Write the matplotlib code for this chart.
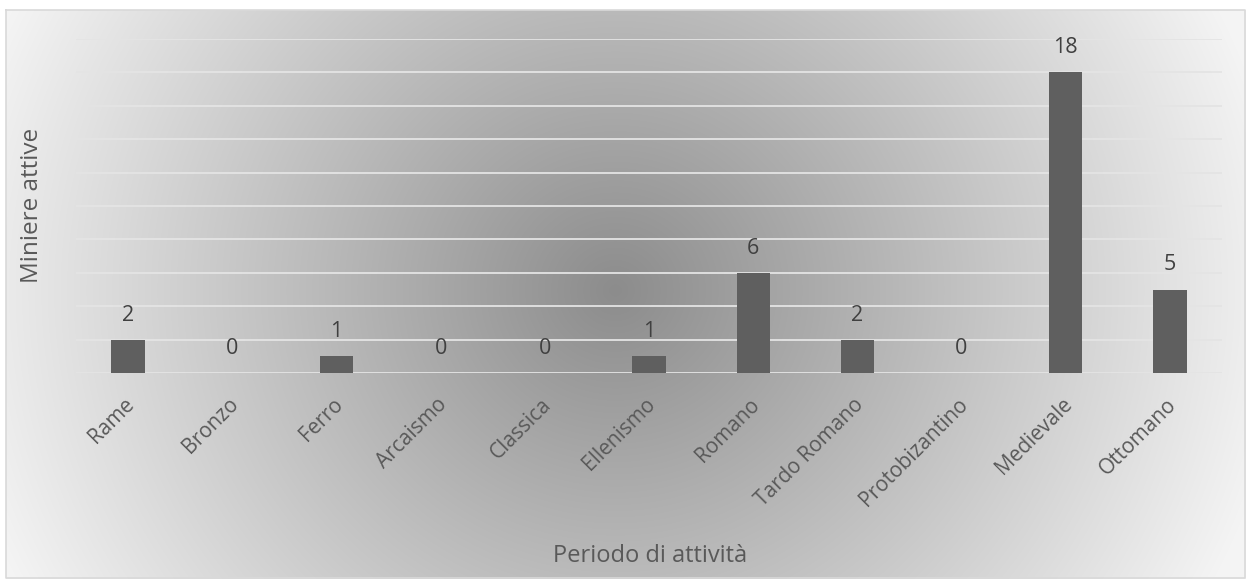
import numpy as np
import matplotlib.pyplot as plt
import matplotlib.transforms as mtransforms

periods = ["Rame", "Bronzo", "Ferro", "Arcaismo", "Classica", "Ellenismo",
           "Romano", "Tardo Romano", "Protobizantino", "Medievale", "Ottomano"]
mines = [2, 0, 1, 0, 0, 1, 6, 2, 0, 18, 5]

W, H = 1249, 580
plt.rcParams['font.family'] = ['Open Sans', 'DejaVu Sans']
fig = plt.figure(figsize=(W / 100, H / 100), dpi=100)

# radial grey gradient filling the chart frame
bg = fig.add_axes([0, 0, 1, 1])
yy, xx = np.mgrid[0:H, 0:W]
cx, cy = 615, 290
d = np.sqrt(((xx - cx) / 1.0) ** 2 + ((yy - cy) / 0.95) ** 2)
v = np.clip(140 + 0.155 * d, 0, 244) / 255.0
fx0, fx1, fy0, fy1 = 6, 1245, 10, 578
mask = (xx >= fx0) & (xx <= fx1) & (yy >= fy0) & (yy <= fy1)
img = np.where(mask, v, 1.0)
bg.imshow(np.dstack([img, img, img]), extent=(0, W, H, 0), aspect='auto',
          interpolation='bilinear')
bg.plot([fx0, fx1, fx1, fx0, fx0], [fy0, fy0, fy1, fy1, fy0], color='#d9d9d9', lw=1.2)
bg.set_xlim(0, W)
bg.set_ylim(H, 0)
bg.axis('off')

left, right, top, bottom = 76, 1222, 39, 373
ax = fig.add_axes([left / W, 1 - bottom / H, (right - left) / W, (bottom - top) / H])
ax.patch.set_alpha(0)
x = np.arange(len(periods))
bars = ax.bar(x, mines, width=0.32, color='#5f5f5f', zorder=3)
ax.set_xlim(-0.5, len(periods) - 0.5)
ax.set_ylim(0, 20)
ax.set_yticks(np.arange(0, 21, 2))
ax.yaxis.grid(True, color='#e4e4e4', lw=1.3, zorder=0)
ax.tick_params(axis='y', left=False, labelleft=False)
ax.tick_params(axis='x', bottom=False, pad=11.5)
for s in ax.spines.values():
    s.set_visible(False)
ax.set_xticks(x)
ax.set_xticklabels(periods, rotation=45, ha='right', rotation_mode='anchor',
                   fontsize=15, color='#595959')
shift = mtransforms.ScaledTranslation(-4 / 100, 0, fig.dpi_scale_trans)
for lbl in ax.get_xticklabels():
    lbl.set_transform(lbl.get_transform() + shift)

for xi, val in zip(x, mines):
    ax.annotate(str(val), (xi, val), xytext=(0, 14), textcoords='offset pixels',
                ha='center', va='bottom', fontsize=15.5, color='#404040')

fig.text(650 / W, 1 - 556 / H, "Periodo di attività", ha='center', va='center',
         fontsize=17, color='#595959')
fig.text(32 / W, 1 - 205 / H, "Miniere attive", ha='center', va='center',
         rotation=90, fontsize=17.5, color='#595959')

fig.savefig('out.png', dpi=100)
